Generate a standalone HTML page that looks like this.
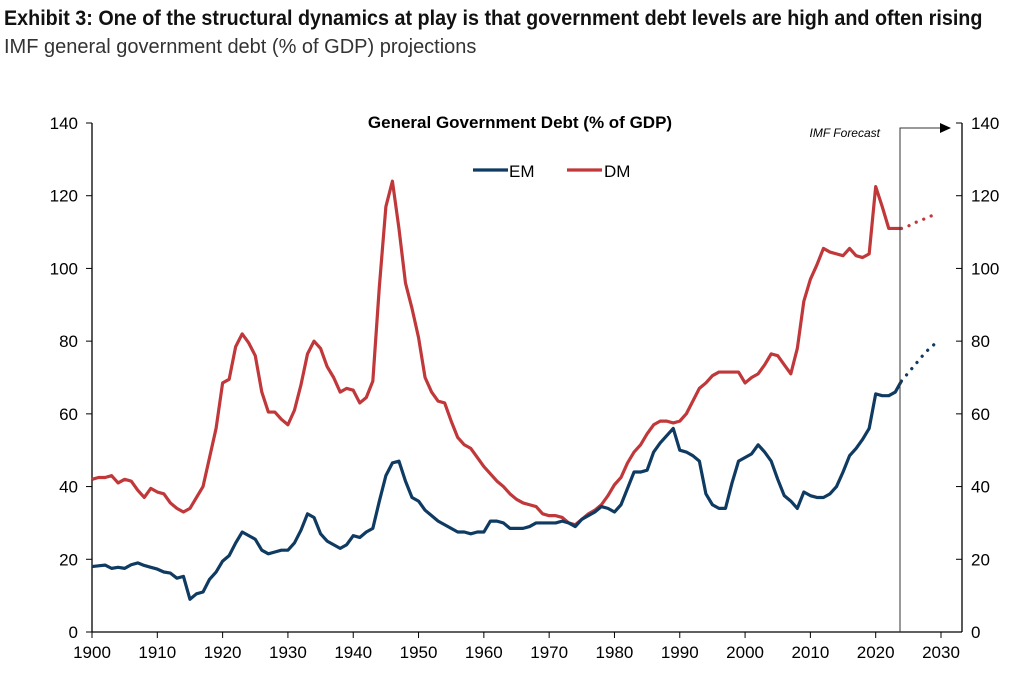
<!DOCTYPE html>
<html><head><meta charset="utf-8"><style>
body{margin:0;background:#fff;width:1028px;height:694px;overflow:hidden;font-family:"Liberation Sans",sans-serif}
.t1{position:absolute;left:4px;top:7px;font-weight:bold;font-size:21px;color:#111;transform:scaleX(0.94);transform-origin:0 0;white-space:nowrap}
.t2{position:absolute;left:4px;top:36px;font-size:20px;color:#333;white-space:nowrap}
</style></head><body>
<div class="t1">Exhibit 3: One of the structural dynamics at play is that government debt levels are high and often rising</div>
<div class="t2">IMF general government debt (% of GDP) projections</div>
<svg id="chart" width="1028" height="694" style="position:absolute;left:0;top:0"></svg>
<script>
const startYear=1900;
const dm=[42,42.5,42.5,43,41,42,41.5,39,37,39.5,38.5,38,35.5,34,33,34,37,40,48,56,68.5,69.5,78.5,82,79.5,76,66,60.5,60.5,58.5,57,61,68,76.5,80,78,73,70,66,67,66.5,63,64.5,69,95,117,124,111,96,89,81,70,66,63.5,63,58,53.5,51.5,50.5,48,45.5,43.5,41.5,40,38,36.5,35.5,35,34.5,32.5,32,32,31.5,30,29.5,31,32.5,33.5,35,37.5,40.5,42.5,46.5,49.5,51.5,54.5,57,58,58,57.5,58,60,63.5,67,68.5,70.5,71.5,71.5,71.5,71.5,68.5,70,71,73.5,76.5,76,73.5,71,78,91,97,101,105.5,104.5,104,103.5,105.5,103.5,103,104,122.5,117,111,111,111];
const em=[18,18.2,18.4,17.5,17.8,17.5,18.5,19,18.3,17.8,17.3,16.5,16.2,14.8,15.3,9,10.5,11,14.5,16.5,19.5,21,24.5,27.5,26.5,25.5,22.5,21.5,22,22.5,22.5,24.5,28,32.5,31.5,27,25,24,23,24,26.5,26,27.5,28.5,36,43,46.5,47,41.5,37,36,33.5,32,30.5,29.5,28.5,27.5,27.5,27,27.5,27.5,30.5,30.5,30,28.5,28.5,28.5,29,30,30,30,30,30.5,30,29,31,32,33,34.5,34,33,35,39.5,44,44,44.5,49.5,52,54,56,50,49.5,48.5,47,38,35,34,34,41,47,48,49,51.5,49.5,47,42,37.5,36,34,38.5,37.5,37,37,38,40,44,48.5,50.5,53,56,65.5,65,65,66,69];
const fcYears=[2024,2025,2026,2027,2028,2029,2030];
const dmFc=[111,111.5,112.5,113,113.8,114.5,115];
const emFc=[69,71,73,75,77,78.5,80];
const yTicks=[0,20,40,60,80,100,120,140];
const xTicks=[1900,1910,1920,1930,1940,1950,1960,1970,1980,1990,2000,2010,2020,2030];

const svg=document.getElementById('chart');const NS='http://www.w3.org/2000/svg';
const X=y=>92+(y-1900)*(849/130)-(y>2023?(y-2023)*0.45:0);const Y=v=>632-v*(509/140);
function mk(tag,at,txt){const e=document.createElementNS(NS,tag);for(const k in at)e.setAttribute(k,at[k]);if(txt!==undefined)e.textContent=txt;svg.appendChild(e);return e;}
const XT=y=>92+(y-1900)*(849/130);
let e;
e=mk('line',{x1:92,y1:123,x2:92,y2:632,stroke:'#000','stroke-width':1.3});


e=mk('line',{x1:962,y1:123,x2:962,y2:632,stroke:'#000','stroke-width':1.3});


e=mk('line',{x1:92,y1:632,x2:962,y2:632,stroke:'#000','stroke-width':1.3});


yTicks.forEach(v=>{
 mk('line',{x1:86,y1:Y(v),x2:92,y2:Y(v),stroke:'#000'});
 mk('line',{x1:956,y1:Y(v),x2:962,y2:Y(v),stroke:'#000'});
 e=mk('text',{x:78,y:Y(v)+6,'text-anchor':'end','font-size':17,fill:'#000'},v);
 
 
 e=mk('text',{x:971,y:Y(v)+6,'font-size':17,fill:'#000'},v);
 
 
});
xTicks.forEach(t=>{
 mk('line',{x1:XT(t),y1:632,x2:XT(t),y2:638,stroke:'#000'});
 e=mk('text',{x:XT(t),y:658,'text-anchor':'middle','font-size':17,fill:'#000'},t);
 
 
});
function pts(arr){return arr.map((v,i)=>X(startYear+i)+','+Y(v)).join(' ');}
e=mk('polyline',{points:pts(dm),fill:'none',stroke:'#c0383a','stroke-width':3.2,'stroke-linejoin':'round'});


e=mk('polyline',{points:pts(em),fill:'none',stroke:'#0f3b62','stroke-width':3.2,'stroke-linejoin':'round'});


function fpts(arr){return arr.map((v,i)=>X(fcYears[i])+','+Y(v)).join(' ');}
e=mk('polyline',{points:fpts(dmFc),fill:'none',stroke:'#c0383a','stroke-width':3.2,'stroke-dasharray':'0.1 8','stroke-linecap':'round'});


e=mk('polyline',{points:fpts(emFc),fill:'none',stroke:'#0f3b62','stroke-width':3.2,'stroke-dasharray':'0.1 8','stroke-linecap':'round'});


e=mk('polyline',{points:'900,632 900,128 942,128',fill:'none',stroke:'#333','stroke-width':1});


mk('polygon',{points:'940,123 951,128 940,133',fill:'#000'});
e=mk('text',{x:880,y:137,'text-anchor':'end','font-size':12,'font-style':'italic',fill:'#000'},'IMF Forecast');


e=mk('text',{x:520,y:128,'text-anchor':'middle','font-size':17,'font-weight':'bold',fill:'#000'},'General Government Debt (% of GDP)');


e=mk('line',{x1:473,y1:170,x2:508,y2:170,stroke:'#0f3b62','stroke-width':3.2});


e=mk('text',{x:509,y:177,'font-size':17,fill:'#000'},'EM');


e=mk('line',{x1:567,y1:170,x2:602,y2:170,stroke:'#c0383a','stroke-width':3.2});


e=mk('text',{x:604,y:177,'font-size':17,fill:'#000'},'DM');


</script>
</body></html>
